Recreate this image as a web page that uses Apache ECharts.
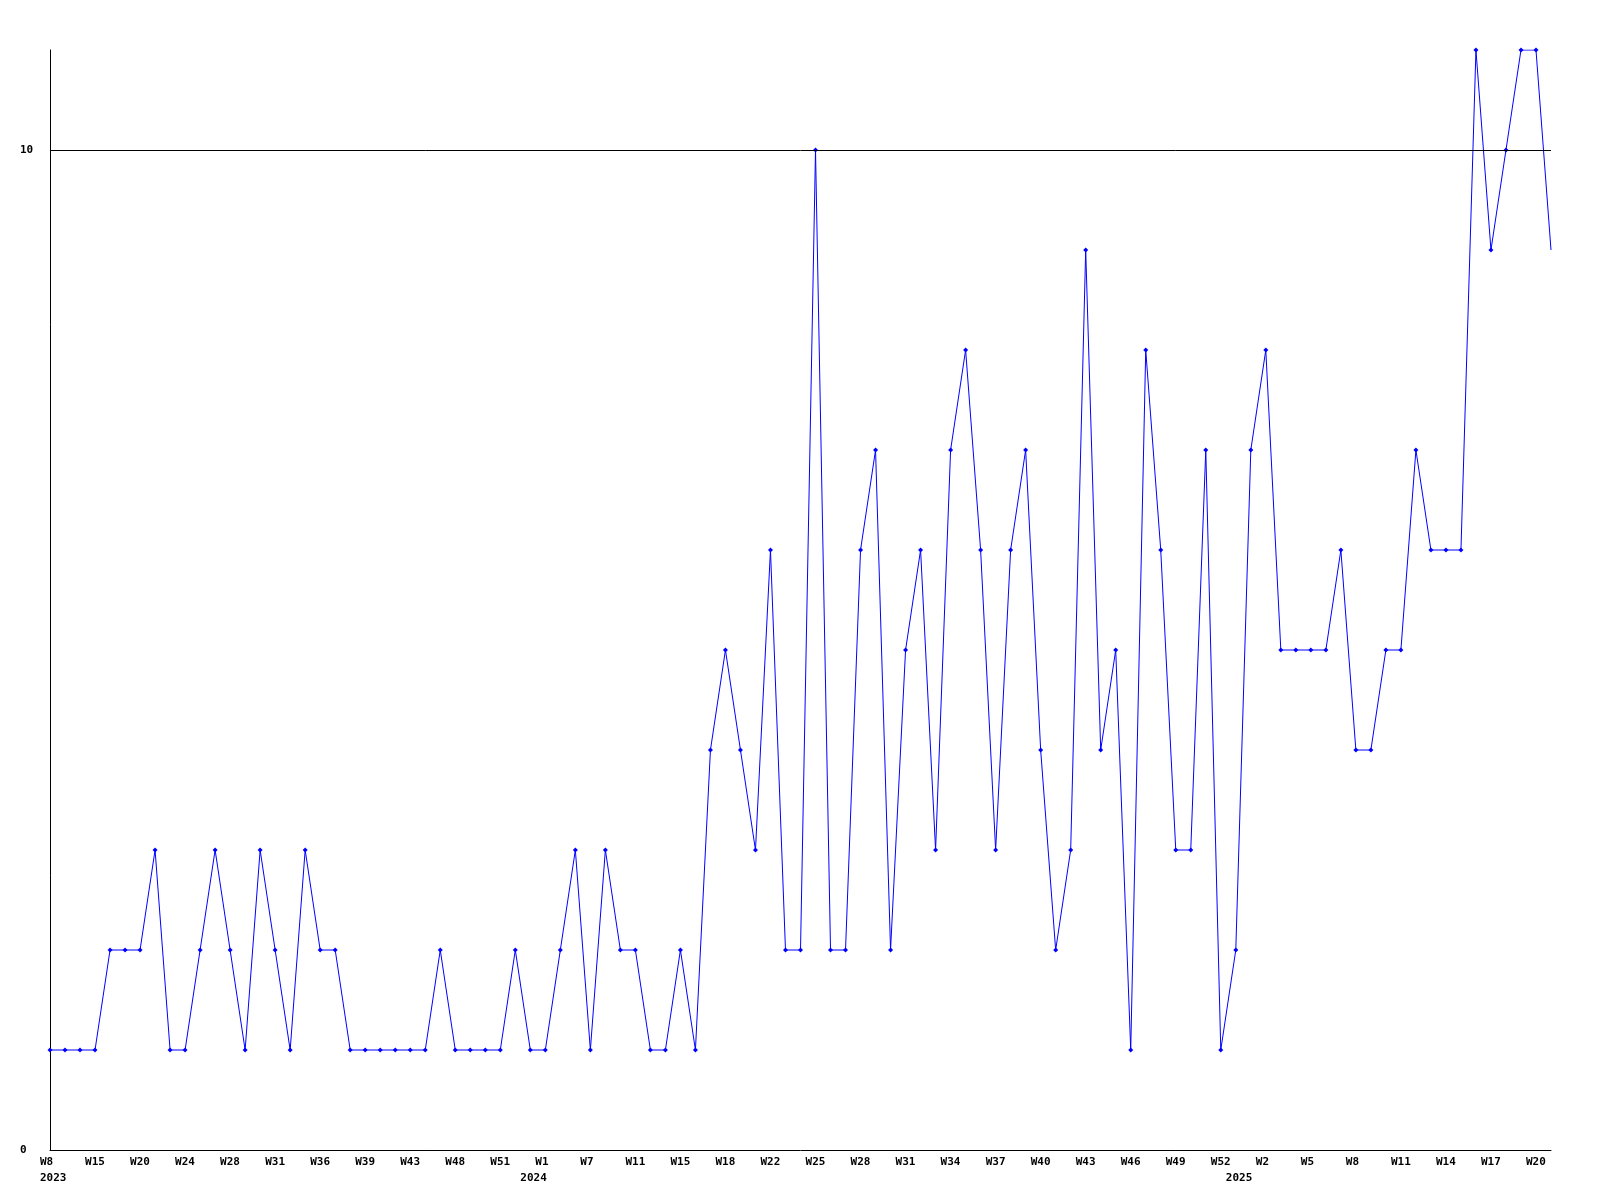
<!DOCTYPE html>
<html>
<head>
<meta charset="utf-8">
<script src="https://cdn.jsdelivr.net/npm/echarts@6/dist/echarts.min.js"></script>
<style>
  html, body { margin: 0; padding: 0; background: #ffffff; }
  #chart { width: 1600px; height: 1200px; }
</style>
</head>
<body>
<div id="chart"></div>
<script>
// Week categories (only every third one is labelled in the reference)
const weeks2023 = ['W8','W10','W12','W15','W16','W18','W20','W21','W22','W24','W25','W27','W28','W29','W30','W31','W33','W35','W36','W37','W38','W39','W40','W42','W43','W45','W47','W48','W49','W50','W51','W52','W52b'];
const weeks2024 = ['W1','W3','W5','W7','W8','W9','W11','W12','W13','W15','W16','W17','W18','W19','W20','W22','W23','W24','W25','W26','W27','W28','W29','W30','W31','W32','W33','W34','W35','W36','W37','W38','W39','W40','W41','W42','W43','W44','W45','W46','W47','W48','W49','W50','W51','W52'];
const weeks2025 = ['W1','W1b','W2','W3','W4','W5','W6','W7','W8','W9','W10','W11','W12','W13','W14','W15','W16','W17','W18','W19','W20','W21'];

const categories = []
  .concat(weeks2023.map(w => '2023-' + w))
  .concat(weeks2024.map(w => '2024-' + w))
  .concat(weeks2025.map(w => '2025-' + w));

const values = [
  1,1,1,1,2,2,2,3,1,1,
  2,3,2,1,3,2,1,3,2,2,
  1,1,1,1,1,1,2,1,1,1,
  1,2,1,1,2,3,1,3,2,2,
  1,1,2,1,4,5,4,3,6,2,
  2,10,2,2,6,7,2,5,6,3,
  7,8,6,3,6,7,4,2,3,9,
  4,5,1,8,6,3,3,7,1,2,
  7,8,5,5,5,5,6,4,4,5,
  5,7,6,6,6,11,9,10,11,11,
  9
];

// Year labels shown under the week labels
const yearCategories = ['2023-W8', '2023-W52b', '2025-W1'];
const yearNames = ['2023', '2024', '2025'];

const yTickLabels = [0, 10];

const FONT = '"DejaVu Sans Mono", monospace';

const seriesData = values.map((v, i) =>
  i === values.length - 1 ? { value: v, symbol: 'none' } : v
);

const chart = echarts.init(document.getElementById('chart'), null, { renderer: 'canvas' });
chart.setOption({
  animation: false,
  backgroundColor: '#ffffff',
  grid: { left: 50, right: 49, top: 50, bottom: 50, containLabel: false },
  xAxis: [
    {
      type: 'category',
      data: categories,
      boundaryGap: false,
      axisLine: { show: true, lineStyle: { color: '#000000', width: 1 } },
      axisTick: { show: false },
      splitLine: { show: false },
      axisLabel: {
        interval: 2,
        margin: 7,
        align: 'left',
        padding: [0, 0, 0, -10],
        color: '#000000',
        fontFamily: FONT,
        fontWeight: 'bold',
        fontSize: 11,
        formatter: v => v.split('-')[1]
      }
    },
    {
      type: 'category',
      data: categories,
      boundaryGap: false,
      position: 'bottom',
      offset: 16,
      axisLine: { show: false },
      axisTick: { show: false },
      splitLine: { show: false },
      axisLabel: {
        interval: 0,
        margin: 7,
        align: 'left',
        padding: [0, 0, 0, -10],
        color: '#000000',
        fontFamily: FONT,
        fontWeight: 'bold',
        fontSize: 11,
        formatter: v => {
          const k = yearCategories.indexOf(v);
          return k >= 0 ? yearNames[k] : '';
        }
      }
    }
  ],
  yAxis: {
    type: 'value',
    min: 0,
    max: 11,
    interval: 10,
    axisLine: { show: true, lineStyle: { color: '#000000', width: 1 } },
    axisTick: { show: false },
    splitLine: { show: false },
    axisLabel: {
      show: true,
      align: 'left',
      margin: 30,
      color: '#000000',
      fontFamily: FONT,
      fontWeight: 'bold',
      fontSize: 11,
      formatter: v => (yTickLabels.indexOf(v) >= 0 ? String(v) : '')
    }
  },
  series: [
    {
      type: 'line',
      xAxisIndex: 0,
      data: seriesData,
      symbol: 'diamond',
      symbolSize: 5,
      showAllSymbol: true,
      itemStyle: { color: '#0000ff' },
      lineStyle: { color: '#0000ff', width: 1 },
      markLine: {
        silent: true,
        symbol: ['none', 'none'],
        label: { show: false },
        lineStyle: { color: '#000000', width: 1, type: 'solid' },
        data: [{ yAxis: 10 }]
      },
      z: 3
    }
  ]
});
</script>
</body>
</html>
